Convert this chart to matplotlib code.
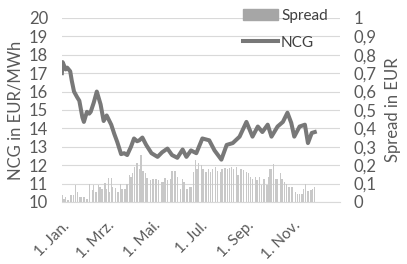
import numpy as np
import pandas as pd
import matplotlib
matplotlib.use("Agg")
import matplotlib.pyplot as plt
import matplotlib.dates as mdates
from matplotlib.patches import Patch
from matplotlib.lines import Line2D
from matplotlib.ticker import FuncFormatter

plt.rcParams['font.family'] = ['Lato', 'DejaVu Sans']

year_start = pd.Timestamp("2016-01-01")

# NCG price (EUR/MWh), day of year -> value
ncg_days = [0, 1, 3, 5, 7, 9, 11, 13, 16, 20, 23, 27, 29, 33, 36, 38, 42, 46, 51, 55,
            59, 65, 69, 73, 78, 82, 86, 91, 95, 99, 102, 106, 111, 118, 126, 132, 139,
            145, 152, 159, 164, 170, 177, 185, 194, 201, 210, 217, 225, 234, 243, 251,
            258, 264, 271, 276, 284, 291, 297, 302, 306, 313, 320, 324, 329, 333]
ncg_vals = [17.0, 17.6, 17.4, 17.2, 17.3, 17.2, 17.1, 16.6, 16.0, 15.7, 15.5, 14.6, 14.35,
            14.9, 14.8, 14.9, 15.4, 16.0, 15.3, 14.4, 14.7, 14.2, 13.7, 13.25, 12.6, 12.65,
            12.55, 13.0, 13.45, 13.3, 13.35, 13.5, 13.1, 12.65, 12.45, 12.7, 12.9, 12.55,
            12.4, 12.85, 12.45, 12.8, 12.65, 13.45, 13.35, 12.8, 12.3, 13.1, 13.2, 13.55,
            14.35, 13.55, 14.1, 13.8, 14.2, 13.55, 14.1, 14.35, 14.85, 14.3, 13.55, 14.1,
            14.2, 13.2, 13.75, 13.8]

# Spread (EUR), day of year -> value
spread_days = [0, 3, 5, 8, 11, 13, 15, 18, 21, 24, 26, 29, 33, 36, 40, 42, 45, 48, 50, 53,
               57, 58, 61, 63, 65, 67, 71, 74, 77, 79, 83, 86, 89, 91, 93, 96, 99, 102, 104,
               107, 110, 112, 117, 120, 124, 127, 131, 133, 136, 139, 143, 145, 149, 152,
               156, 159, 161, 165, 168, 170, 173, 176, 178, 180, 184, 186, 190, 193, 196,
               198, 202, 205, 209, 211, 215, 218, 221, 223, 226, 230, 232, 236, 239, 243,
               246, 248, 251, 255, 257, 260, 263, 266, 270, 272, 274, 276, 279, 282, 284,
               288, 290, 293, 296, 299, 303, 304, 308, 310, 313, 316, 318, 321, 324, 328,
               330, 333]
spread_vals = [0.036, 0.018, 0.027, 0.010, 0.036, 0.036, 0.036, 0.090, 0.055, 0.027, 0.027,
               0.027, 0.018, 0.095, 0.064, 0.090, 0.055, 0.090, 0.080, 0.073, 0.105, 0.073,
               0.130, 0.055, 0.130, 0.080, 0.076, 0.055, 0.095, 0.073, 0.073, 0.095, 0.145,
               0.135, 0.160, 0.190, 0.210, 0.180, 0.255, 0.170, 0.155, 0.130, 0.118, 0.127,
               0.127, 0.118, 0.110, 0.110, 0.130, 0.118, 0.127, 0.167, 0.170, 0.136, 0.073,
               0.127, 0.110, 0.073, 0.080, 0.080, 0.164, 0.227, 0.180, 0.210, 0.200, 0.180,
               0.164, 0.180, 0.164, 0.180, 0.190, 0.170, 0.164, 0.180, 0.185, 0.180, 0.185,
               0.190, 0.180, 0.190, 0.145, 0.178, 0.173, 0.164, 0.155, 0.136, 0.127, 0.136,
               0.118, 0.136, 0.090, 0.127, 0.090, 0.136, 0.180, 0.180, 0.204, 0.127, 0.127,
               0.155, 0.127, 0.110, 0.100, 0.080, 0.080, 0.080, 0.055, 0.045, 0.045, 0.045,
               0.070, 0.095, 0.058, 0.064, 0.073, 0.080]

month_ticks = ["2016-01-01", "2016-03-01", "2016-05-01", "2016-07-01", "2016-09-01", "2016-11-01"]
month_labels = ["1. Jan.", "1. Mrz.", "1. Mai.", "1. Jul.", "1. Sep.", "1. Nov."]

ncg_dates = year_start + pd.to_timedelta(ncg_days, unit="D")
spread_dates = year_start + pd.to_timedelta(spread_days, unit="D")

txt = '#595959'
fig = plt.figure(figsize=(4.07, 2.64), dpi=100)
ax2 = fig.add_axes([0.152, 0.235, 0.683, 0.697])
ax = ax2.twinx()
ax.set_zorder(2)
ax2.set_zorder(1)
ax.patch.set_visible(False)

ax2.bar(spread_dates, spread_vals, width=1.8, color='#c8c8c8', zorder=2)
ax2.set_ylim(0, 1)
ax2.set_yticks(np.arange(0, 1.01, 0.1))
ax2.yaxis.set_major_formatter(FuncFormatter(lambda v, p: ('%g' % round(v, 1)).replace('.', ',')))
ax2.grid(axis='y', color='#d9d9d9', lw=0.8, zorder=0)
ax2.set_axisbelow(True)
ax2.yaxis.tick_right()
ax2.yaxis.set_label_position('right')
ax2.set_ylabel('Spread in EUR', color=txt, fontsize=12, labelpad=6)

ax.plot(ncg_dates, ncg_vals, color='#787878', lw=2.9, solid_joinstyle='round')
ax.set_ylim(10, 20)
ax.set_yticks(range(10, 21))
ax.yaxis.tick_left()
ax.yaxis.set_label_position('left')
ax.set_ylabel('NCG in EUR/MWh', color=txt, fontsize=12, labelpad=4)

ax2.set_xlim(year_start, pd.Timestamp("2017-01-01"))
ax2.set_xticks(pd.to_datetime(month_ticks))
ax2.set_xticklabels(month_labels, rotation=45, ha='right', rotation_mode='anchor')

for a in (ax, ax2):
    for s in a.spines.values():
        s.set_visible(False)
    a.tick_params(length=0, colors=txt, labelsize=12)
ax2.tick_params(axis='x', labelsize=11, pad=12)
ax2.tick_params(axis='y', pad=10)
ax.tick_params(axis='y', pad=10)
ax2.spines['bottom'].set_visible(True)
ax2.spines['bottom'].set_color('#d9d9d9')

handles = [Patch(color='#a6a6a6'), Line2D([0], [0], color='#787878', lw=2.9)]
ax.legend(handles, ['Spread', 'NCG'], loc='upper left', bbox_to_anchor=(0.651, 1.05),
          frameon=False, fontsize=11, handlelength=2.3, handletextpad=0.2,
          labelspacing=0.85, borderpad=0, borderaxespad=0, labelcolor='#404040')

fig.savefig('out.png', dpi=100)
